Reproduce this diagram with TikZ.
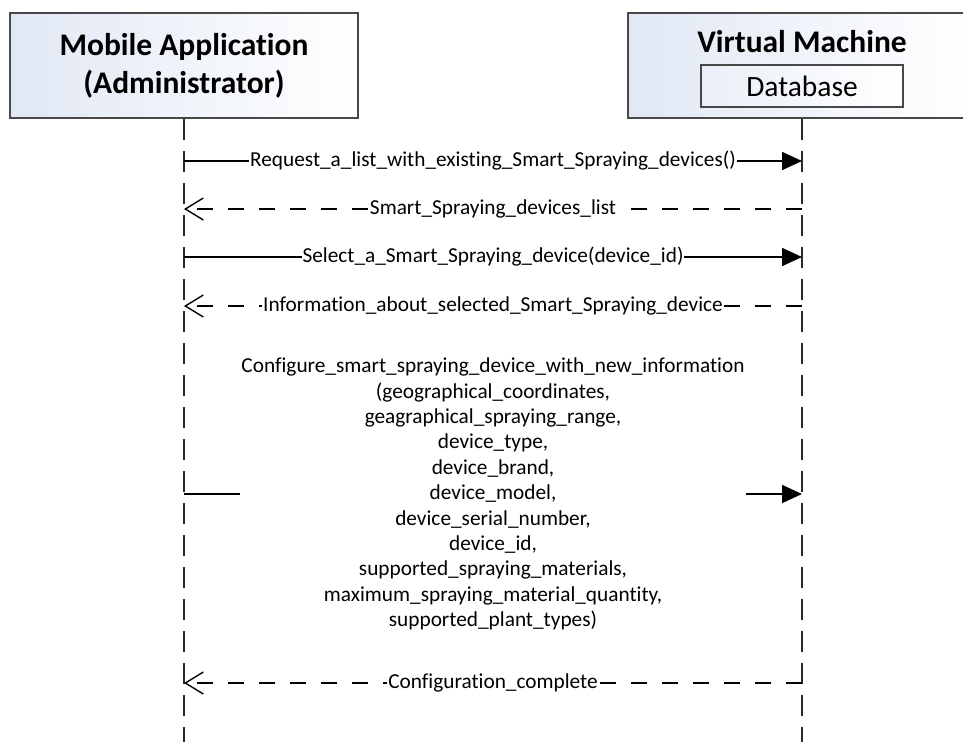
\documentclass[tikz,border=0pt]{standalone}
\usepackage{fontspec}
\setmainfont[Ligatures=NoCommon]{Carlito}
\usetikzlibrary{arrows.meta}
\definecolor{frame}{HTML}{484848}
\definecolor{tint}{HTML}{E1E8F4}
\definecolor{life}{HTML}{2A2A2A}
\begin{document}
\begin{tikzpicture}[x=1pt,y=-1pt,
  actor/.style={draw=frame, line width=2.2pt, left color=tint, right color=white,
    minimum width=348pt, minimum height=105pt, inner sep=0pt},
  store/.style={draw=frame, line width=2pt, left color=tint!70, right color=white,
    minimum width=202pt, minimum height=42pt, inner sep=0pt},
  head/.style={font=\fontsize{31.5}{38}\selectfont\bfseries, anchor=base, inner sep=0pt},
  dbtext/.style={font=\fontsize{29.5}{34}\selectfont, anchor=base, inner sep=0pt},
  lifeline/.style={draw=life, line width=2.8pt, dash pattern=on 21pt off 11pt},
  call/.style={draw=black, line width=1.7pt, -{Triangle[length=20pt,width=18pt]}},
  reply/.style={draw=black, line width=1.7pt, dash pattern=on 16pt off 15pt,
    -{Straight Barb[length=18pt,width=22pt,line width=1.4pt]}},
  lbl/.style={font=\fontsize{21.3}{25.4}\selectfont, fill=white, inner sep=1pt, align=center},
]
\useasboundingbox (0,0) rectangle (963,742);
\clip (0,0) rectangle (963,742);

% participants
\node[actor] (app) at (184,65.3) {};
\node[head] (appname) at (184,55) {Mobile Application};
\node[head] (approle) at (184,93) {(Administrator)};

\node[actor] (vm) at (802,65.3) {};
\node[head] (vmname) at (802,52) {Virtual Machine};
\node[store] (db) at (802,86) {};
\node[dbtext] (dbname) at (802,96.5) {Database};

% lifelines
\coordinate (appEnd) at (184,742);
\coordinate (vmEnd) at (802,742);
\draw[lifeline] (app.south) -- (appEnd);
\draw[lifeline] (vm.south) -- (vmEnd);

% message anchor points on the lifelines
\foreach \n/\y in {1/161, 2/209, 3/257, 4/306, 5/494, 6/683} {
  \coordinate (a\n) at (184,\y);
  \coordinate (b\n) at (802,\y);
}

% messages
\draw[call] (a1) -- node[lbl] {Request\_a\_list\_with\_existing\_Smart\_Spraying\_devices()} (b1);
\draw[reply] (b2) -- node[lbl] {Smart\_Spraying\_devices\_list} (a2);
\draw[call] (a3) -- node[lbl] {Select\_a\_Smart\_Spraying\_device(device\_id)} (b3);
\draw[reply] (b4) -- node[lbl] {Information\_about\_selected\_Smart\_Spraying\_device} (a4);
\draw[call] (a5) -- node[lbl] {Configure\_smart\_spraying\_device\_with\_new\_information\\
  (geographical\_coordinates,\\
  geagraphical\_spraying\_range,\\
  device\_type,\\
  device\_brand,\\
  device\_model,\\
  device\_serial\_number,\\
  device\_id,\\
  supported\_spraying\_materials,\\
  maximum\_spraying\_material\_quantity,\\
  supported\_plant\_types)} (b5);
\draw[reply] (b6) -- node[lbl] {Configuration\_complete} (a6);
\end{tikzpicture}
\end{document}
